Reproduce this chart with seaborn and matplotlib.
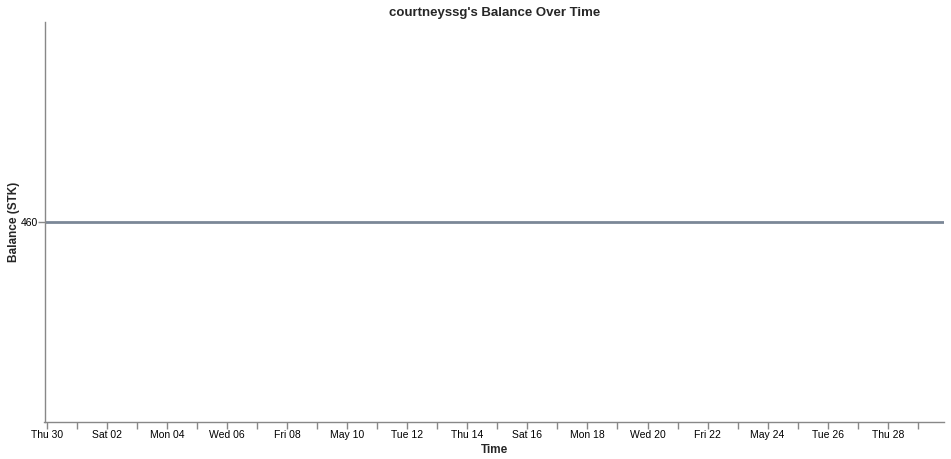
import matplotlib
matplotlib.use("Agg")
import matplotlib.pyplot as plt
import seaborn as sns
import pandas as pd

# balance history (flat)
times = ["2026-04-29 22:00", "2026-05-29 21:00"]
balance = [460, 460]
tick_days = pd.date_range("2026-04-30", "2026-05-29", freq="D")

sns.set_style("ticks")
plt.rcParams["font.family"] = ["Liberation Sans", "DejaVu Sans"]

df = pd.DataFrame({"Time": pd.to_datetime(times), "Balance": balance})

fig = plt.figure(figsize=(9.51, 4.59), dpi=100)
ax = fig.add_axes([44.5 / 951, 37 / 459, 899.5 / 951, 400 / 459])

sns.lineplot(data=df, x="Time", y="Balance", ax=ax, color="#7b8797", linewidth=2)

ax.set_xlim(df["Time"].min(), df["Time"].max())
ax.set_ylim(459, 461)
ax.set_yticks([460])
ax.set_yticklabels(["460"])


def day_label(i, d):
    if i % 2:
        return ""
    return d.strftime("%b %d") if d.dayofweek == 6 else d.strftime("%a %d")


ax.set_xticks(list(tick_days))
ax.set_xticklabels([day_label(i, d) for i, d in enumerate(tick_days)])

for side in ["top", "right"]:
    ax.spines[side].set_visible(False)
for side in ["left", "bottom"]:
    ax.spines[side].set_color("#888888")
    ax.spines[side].set_linewidth(1)
ax.tick_params(axis="both", colors="#888888", labelcolor="black", labelsize=7.5,
               length=5, width=1, pad=1)
ax.tick_params(axis="y", pad=0)

ax.set_xlabel("Time", fontsize=8.5, fontweight="bold", labelpad=2.5)
ax.set_ylabel("Balance (STK)", fontsize=8.5, fontweight="bold")
ax.yaxis.set_label_coords(-0.027, 0.5)
ax.set_title("courtneyssg's Balance Over Time", fontsize=9.5, fontweight="bold", pad=4.5)

fig.savefig("out.png", dpi=100)
